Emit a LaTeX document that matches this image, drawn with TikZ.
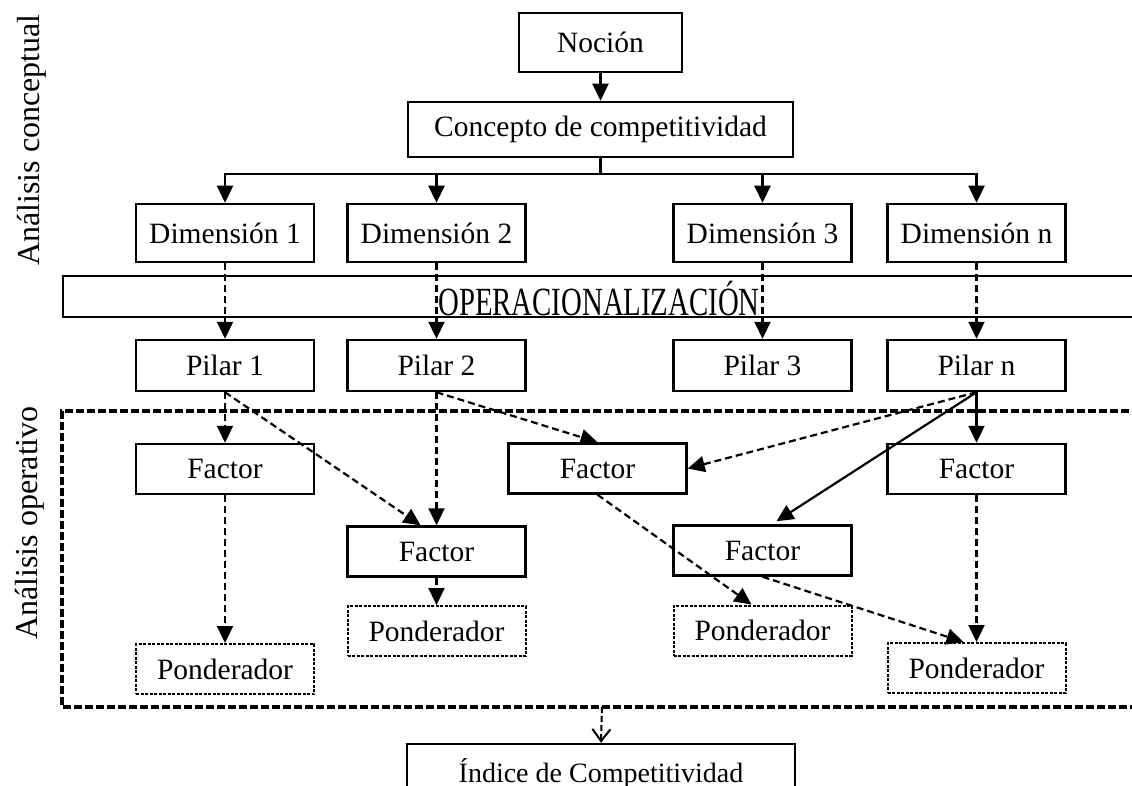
\documentclass[tikz,border=0pt]{standalone}
\usepackage{fontspec}
\setmainfont{Liberation Serif}
\usetikzlibrary{arrows.meta,calc}
\begin{document}
\begin{tikzpicture}[x=1pt,y=-1pt,
  txt/.style={font=\fontsize{29.5}{34}\selectfont},
  box/.style={txt,draw,line width=2.5pt,inner sep=0pt,minimum width=178pt,minimum height=50pt},
  pond/.style={box,line width=2pt,dash pattern=on 3pt off 1.5pt},
  tip/.style={-{Triangle[width=16pt,length=17pt]}},
  arr/.style={line width=2.2pt,tip},
  darr/.style={arr,dash pattern=on 7pt off 4pt},
  framebox/.style={line width=3.5pt,dash pattern=on 8pt off 3pt},
  sidelabel/.style={rotate=90,anchor=base,font=\fontsize{32}{32}\selectfont},
]
\useasboundingbox (0,0) rectangle (1132,786);

% side labels
\node[sidelabel] (lc) at (39,140) {Análisis conceptual};
\node[sidelabel] (lo) at (37,523) {Análisis operativo};

% top
\node[box,minimum width=163pt,minimum height=59pt] (nocion) at (600.5,42.5) {Noción};
\node[box,minimum width=385pt,minimum height=55pt] (concepto) at (600.5,129.5) {Concepto de competitividad};

% dimensions
\node[box,minimum height=58pt] (d1) at (225,233) {Dimensión 1};
\node[box,minimum height=58pt] (d2) at (436.5,233) {Dimensión 2};
\node[box,minimum height=58pt] (d3) at (762.5,233) {Dimensión 3};
\node[box,minimum height=58pt] (dn) at (976.5,233) {Dimensión n};

% operationalisation band
\draw[line width=2.5pt] (1140,276) -| (63,317) -- (1140,317);
\node[anchor=base,inner sep=0pt] (oper) at (599,315) {\scalebox{0.72}[1]{\fontsize{40}{40}\selectfont OPERACIONALIZACIÓN}};

% pillars
\node[box,minimum height=51pt] (p1) at (225,365.5) {Pilar 1};
\node[box,minimum height=51pt] (p2) at (436.5,365.5) {Pilar 2};
\node[box,minimum height=51pt] (p3) at (762.5,365.5) {Pilar 3};
\node[box,minimum height=51pt] (pn) at (976.5,365.5) {Pilar n};

% operative frame
\draw[framebox] (1140,411) -| (62,707) -- (1140,707);
\coordinate (fbot) at (602,707);

% factors
\node[box] (fA) at (225,469) {Factor};
\node[box] (fC) at (597.5,468.5) {Factor};
\node[box] (fE) at (976.5,469) {Factor};
\node[box] (fB) at (436.5,551.5) {Factor};
\node[box] (fD) at (762.5,550.5) {Factor};

% weights
\node[pond] (pL) at (225,669) {Ponderador};
\node[pond] (pM) at (436.5,631) {Ponderador};
\node[pond] (p3w) at (762.5,630.5) {Ponderador};
\node[pond] (pR) at (976.5,668) {Ponderador};

% index
\node[box,minimum width=388pt,minimum height=58pt,font=\fontsize{28}{32}\selectfont] (indice) at (601,773) {Índice de Competitividad};

% connectors
\draw[arr] (nocion) -- (concepto);
\foreach \d in {d1,d2,d3,dn}
  \draw[arr] (concepto.south) -- ++(0,16) -| (\d.north);

\draw[darr] (d1) -- (p1);
\draw[darr] (d2) -- (p2);
\draw[darr] (d3) -- (p3);
\draw[darr] (dn) -- (pn);

\draw[darr] (p1) -- (fA);
\draw[darr] (p1.south) -- ([xshift=-16pt]fB.north);
\draw[darr] (p2) -- (fB);
\draw[darr] (p2.south) -- (fC.north);
\draw[darr] (pn.south) -- (fC.east);
\draw[arr] (pn.south) -- ([xshift=14pt,yshift=3pt]fD.north);
\draw[arr] (pn) -- (fE);

\draw[darr] (fA) -- (pL);
\draw[darr] (fB) -- (pM);
\draw[darr] (fC.south) -- ([xshift=-11pt]p3w.north);
\draw[darr] (fD.south) -- ([xshift=-13pt]pR.north);
\draw[darr] (fE) -- (pR);

\draw[line width=2pt,dash pattern=on 6pt off 3pt,-{Straight Barb[width=18pt,length=12pt,line width=2pt]}] (fbot) -- (indice.north);
\end{tikzpicture}
\end{document}
